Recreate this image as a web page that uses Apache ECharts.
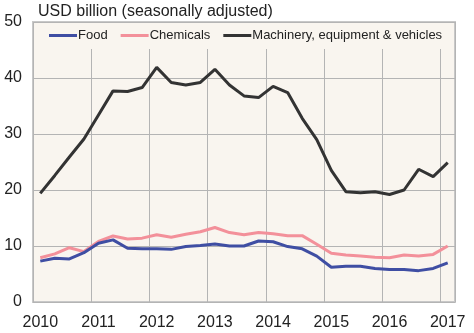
<!DOCTYPE html>
<html>
<head>
<meta charset="utf-8">
<script src="https://cdn.jsdelivr.net/npm/echarts@6/dist/echarts.min.js"></script>
<style>
html,body{margin:0;padding:0;background:#ffffff;}
#chart{width:474px;height:333px;}
</style>
</head>
<body>
<div id="chart"></div>
<script>
var quarters = ['2010Q1','2010Q2','2010Q3','2010Q4','2011Q1','2011Q2','2011Q3','2011Q4',
  '2012Q1','2012Q2','2012Q3','2012Q4','2013Q1','2013Q2','2013Q3','2013Q4',
  '2014Q1','2014Q2','2014Q3','2014Q4','2015Q1','2015Q2','2015Q3','2015Q4',
  '2016Q1','2016Q2','2016Q3','2016Q4','2017Q1'];
var food = [7.3, 7.8, 7.7, 8.8, 10.5, 11.1, 9.6, 9.5, 9.5, 9.4, 9.9, 10.1, 10.35, 10.0, 10.0, 10.9,
  10.75, 9.9, 9.5, 8.2, 6.2, 6.4, 6.4, 6.0, 5.8, 5.8, 5.6, 6.0, 7.0];
var chemicals = [7.9, 8.6, 9.7, 9.0, 10.8, 11.8, 11.25, 11.4, 12.0, 11.55, 12.1, 12.55, 13.3, 12.4, 12.0, 12.4,
  12.2, 11.85, 11.85, 10.3, 8.7, 8.4, 8.2, 8.0, 7.9, 8.4, 8.2, 8.5, 10.0];
var machinery = [19.4, 22.6, 25.9, 29.1, 33.4, 37.7, 37.6, 38.3, 41.9, 39.2, 38.75, 39.2, 41.55, 38.75, 36.8, 36.5,
  38.5, 37.4, 32.8, 29.0, 23.5, 19.7, 19.5, 19.7, 19.2, 20.0, 23.7, 22.4, 24.9];
var seriesNames = ['Food', 'Chemicals', 'Machinery, equipment & vehicles'];
var yTicks = {min: 0, max: 50, interval: 10};
var titleText = 'USD billion (seasonally adjusted)';

var FONT = '"Liberation Sans", Arial, sans-serif';
var chart = echarts.init(document.getElementById('chart'), null, {renderer: 'canvas'});
chart.setOption({
  backgroundColor: '#ffffff',
  animation: false,
  title: {
    text: titleText, left: 34, top: 2, padding: [2, 4],
    textStyle: {fontFamily: FONT, fontSize: 16, fontWeight: 'normal', color: '#222222'}
  },
  legend: {
    data: seriesNames,
    left: 35, top: 23,
    padding: [6, 10, 7, 14],
    backgroundColor: '#f9f5ef',
    icon: 'rect', itemWidth: 28, itemHeight: 3, itemGap: 13,
    textStyle: {fontFamily: FONT, fontSize: 13, color: '#222222', padding: [0, 0, 0, -4]}
  },
  grid: {
    left: 33, right: 19, top: 22, bottom: 31,
    show: true, backgroundColor: '#f9f5ef', borderColor: '#c8c8c8', borderWidth: 2
  },
  xAxis: {
    type: 'category', data: quarters, boundaryGap: true,
    axisLine: {show: false}, axisTick: {show: false, interval: 3},
    axisLabel: {interval: 3, margin: 13, fontFamily: FONT, fontSize: 16, color: '#222222',
      formatter: function (v) { return v.slice(0, 4); }},
    splitLine: {show: true, interval: 3, lineStyle: {color: '#b4b4b4', width: 1}}
  },
  yAxis: {
    type: 'value', min: yTicks.min, max: yTicks.max, interval: yTicks.interval,
    axisLine: {show: false}, axisTick: {show: false},
    axisLabel: {margin: 11, fontFamily: FONT, fontSize: 16, color: '#222222'},
    splitLine: {show: true, lineStyle: {color: '#b4b4b4', width: 1}}
  },
  series: [
    {name: seriesNames[0], type: 'line', data: food, symbol: 'none', z: 3,
      lineStyle: {color: '#3f4ea3', width: 3}, itemStyle: {color: '#3f4ea3'}},
    {name: seriesNames[1], type: 'line', data: chemicals, symbol: 'none', z: 2,
      lineStyle: {color: '#f3909a', width: 3}, itemStyle: {color: '#f3909a'}},
    {name: seriesNames[2], type: 'line', data: machinery, symbol: 'none', z: 4,
      lineStyle: {color: '#333333', width: 3}, itemStyle: {color: '#333333'}}
  ]
});
</script>
</body>
</html>
